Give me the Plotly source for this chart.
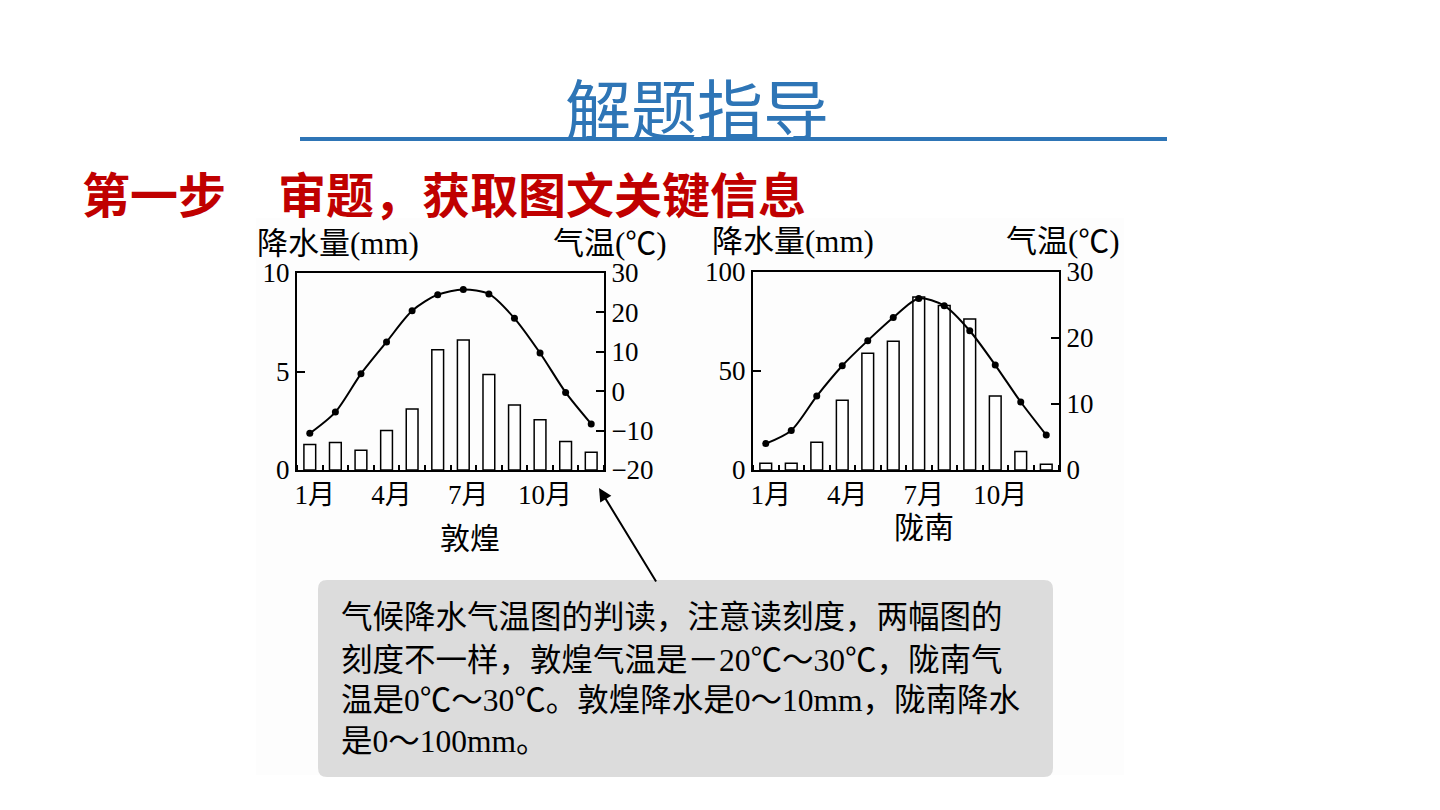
import plotly.graph_objects as go

W, H = 1440, 810

months = list(range(1, 13))
month_ticks = [1, 4, 7, 10]
month_labels = ["1月", "4月", "7月", "10月"]

dunhuang_precip = [1.3, 1.4, 1.0, 2.0, 3.1, 6.1, 6.6, 4.85, 3.3, 2.55, 1.45, 0.9]
dunhuang_temp = [-10.7, -5.3, 4.4, 12.5, 20.4, 24.5, 25.8, 24.7, 18.5, 9.7, -0.3, -8.3]

longnan_precip = [3.4, 3.4, 14, 35.2, 59, 65, 87.4, 83.1, 76.2, 37.4, 9.3, 2.9]
longnan_temp = [4.0, 6.0, 11.2, 15.8, 19.6, 23.1, 26.0, 24.9, 21.1, 15.9, 10.3, 5.3]

left_precip_ticks = [0, 5, 10]
left_temp_ticks = [-20, -10, 0, 10, 20, 30]
right_precip_ticks = [0, 50, 100]
right_temp_ticks = [0, 10, 20, 30]

SERIF = "Liberation Serif, Noto Sans CJK SC"
CJK = "Noto Sans CJK SC"


def px(x):
    return x / W


def py(y):
    return 1 - y / H


fig = go.Figure()

bar_style = dict(marker=dict(color="white", line=dict(color="black", width=1.5)),
                 width=0.46, showlegend=False, hoverinfo="skip")
line_style = dict(mode="lines+markers", line=dict(color="black", width=2, shape="spline", smoothing=0.8),
                  marker=dict(color="black", size=7), showlegend=False, hoverinfo="skip")

fig.add_trace(go.Bar(x=months, y=dunhuang_precip, xaxis="x", yaxis="y", **bar_style))
fig.add_trace(go.Scatter(x=months, y=dunhuang_temp, xaxis="x", yaxis="y2", **line_style))
fig.add_trace(go.Bar(x=months, y=longnan_precip, xaxis="x2", yaxis="y3", **bar_style))
fig.add_trace(go.Scatter(x=months, y=longnan_temp, xaxis="x2", yaxis="y4", **line_style))

tickfont = dict(family=SERIF, size=27, color="black")

xcommon = dict(range=[0.5, 12.5], tickvals=month_ticks, ticktext=month_labels, ticks="",
               showline=True, mirror=True, linecolor="black", linewidth=2, showgrid=False,
               zeroline=False, tickfont=tickfont, fixedrange=True, automargin=False,
               ticklabelshift=5,
               minor=dict(tickmode="linear", tick0=0.5, dtick=1, ticks="inside", ticklen=5,
                          tickcolor="black", tickwidth=1.5, showgrid=False))
ycommon = dict(showline=True, linecolor="black", linewidth=2, ticks="inside", ticklen=8,
               tickcolor="black", tickwidth=1.5, showgrid=False, zeroline=False,
               tickfont=tickfont, fixedrange=True, automargin=False)

y_lo, y_hi = py(470), py(273)

fig.update_layout(
    width=W, height=H, autosize=False,
    margin=dict(l=0, r=0, t=0, b=0, pad=0),
    paper_bgcolor="white", plot_bgcolor="rgba(0,0,0,0)",
    barmode="overlay",
    xaxis=dict(domain=[px(297), px(604)], anchor="y", **xcommon),
    yaxis=dict(domain=[y_lo, y_hi], anchor="x", range=[0, 10], tickvals=left_precip_ticks, side="left", **ycommon),
    yaxis2=dict(overlaying="y", anchor="x", side="right", range=[-20, 30], tickvals=left_temp_ticks, **ycommon),
    xaxis2=dict(domain=[px(753), px(1059)], anchor="y3", **xcommon),
    yaxis3=dict(domain=[y_lo, py(272)], anchor="x2", range=[0, 100], tickvals=right_precip_ticks, side="left", **ycommon),
    yaxis4=dict(overlaying="y3", anchor="x2", side="right", range=[0, 30], tickvals=right_temp_ticks, **ycommon),
)

# rounded callout box
def rounded_rect(x0, y0, x1, y1, r):
    X0, X1 = px(x0), px(x1)
    Y0, Y1 = py(y0), py(y1)
    rx, ry = r / W, r / H
    return (f"M {X0+rx},{Y0} L {X1-rx},{Y0} Q {X1},{Y0} {X1},{Y0-ry} "
            f"L {X1},{Y1+ry} Q {X1},{Y1} {X1-rx},{Y1} L {X0+rx},{Y1} "
            f"Q {X0},{Y1} {X0},{Y1+ry} L {X0},{Y0-ry} Q {X0},{Y0} {X0+rx},{Y0} Z")

fig.add_shape(type="rect", xref="paper", yref="paper", x0=px(256), x1=px(1124), y0=py(775), y1=py(218),
              fillcolor="#fdfdfd", line=dict(width=0), layer="below")
fig.add_shape(type="path", xref="paper", yref="paper", path=rounded_rect(318, 580, 1053, 777, 9),
              fillcolor="#dcdcdc", line=dict(width=0), layer="below")
# title underline
fig.add_shape(type="line", xref="paper", yref="paper", x0=px(300), x1=px(1167), y0=py(139), y1=py(139),
              line=dict(color="#2E75B6", width=4))

ann = []


def text(t, x, y, size, color="black", family=SERIF, xanchor="left", bold=False):
    if bold:
        t = "<b>" + t + "</b>"
    ann.append(dict(text=t, x=px(x), y=py(y), xref="paper", yref="paper", xanchor=xanchor,
                    yanchor="middle", showarrow=False, font=dict(family=family, size=size, color=color)))


text("解题指导", 697, 106, 66, color="#2E75B6", family=CJK, xanchor="center")
text("第一步", 80, 192, 48, color="#C00000", family=CJK, bold=True)
text("审题，获取图文关键信息", 276, 192, 48, color="#C00000", family=CJK, bold=True)

text("降水量(mm)", 255, 243, 31)
text("气温(℃)", 551, 243, 31)
text("降水量(mm)", 710, 241, 31)
text("气温(℃)", 1004, 241, 31)
text("敦煌", 470, 538, 30, xanchor="center")
text("陇南", 924, 527, 30, xanchor="center")

callout_lines = [
    "气候降水气温图的判读，注意读刻度，两幅图的",
    "刻度不一样，敦煌气温是－20℃～30℃，陇南气",
    "温是0℃～30℃。敦煌降水是0～10mm，陇南降水",
    "是0～100mm。",
]
for i, ln in enumerate(callout_lines):
    text(ln, 339, [617, 660, 700, 741][i], 31.5)

ann.append(dict(x=px(599), y=py(488), ax=657 - 599, ay=583 - 488, xref="paper", yref="paper",
                axref="pixel", ayref="pixel", showarrow=True, arrowhead=2, arrowsize=1.3,
                arrowwidth=2, arrowcolor="black", text=""))

fig.update_layout(annotations=ann)

fig.write_html("out.html")
